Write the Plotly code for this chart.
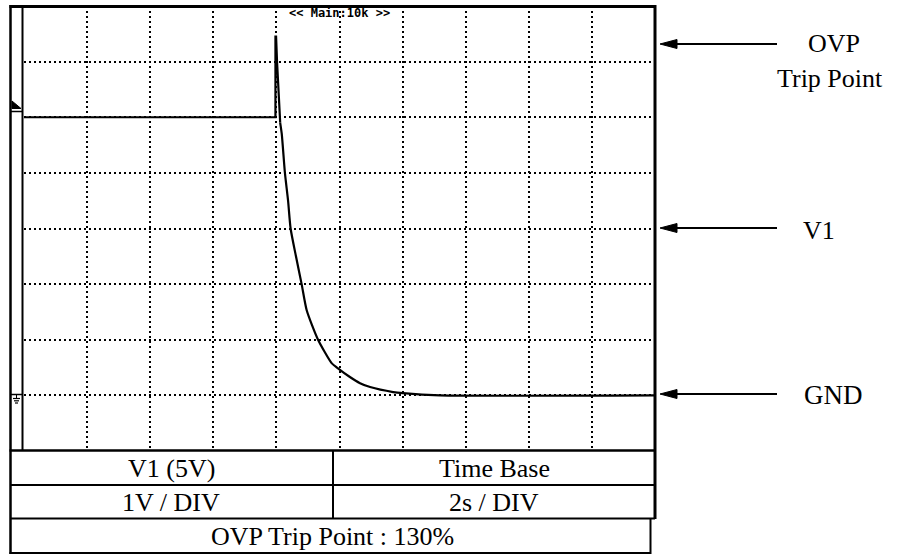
import plotly.graph_objects as go

# ---------------- data ----------------
time_s = [0.0, 7.97, 7.97, 7.99, 8.02, 8.05, 8.09, 8.12, 8.17, 8.27, 8.37, 8.45,
          8.62, 8.80, 8.96, 9.32, 9.75, 9.92, 10.33, 10.65, 10.97, 11.70, 12.01,
          13.19, 20.0]
volts = [5.0, 5.0, 6.45, 6.45, 6.0, 5.6, 5.1, 4.9, 4.7, 4.0, 3.5, 3.0,
         2.5, 2.0, 1.53, 1.0, 0.58, 0.5, 0.33, 0.22, 0.15, 0.06, 0.04,
         0.0, 0.0]
decay_start = 7            # index where the smooth exponential decay begins

x_range = [0, 20]          # 10 divisions x 2 s/DIV
y_range = [-1, 7]          # 8 divisions x 1 V/DIV, GND at 0
x_div = 2
y_div = 1

top_label = "<< Main:10k >>"
table_row1 = ["V1 (5V)", "Time Base"]
table_row2 = ["1V / DIV", "2s / DIV"]
table_row3 = "OVP Trip Point : 130%"
right_labels = ["OVP", "Trip Point", "V1", "GND"]

# ---------------- geometry helpers (pixels -> paper) ----------------
W, H = 901, 557
def px(x):
    return x / W
def py(y):
    return 1 - y / H

PL, PR, PT, PB = 24, 655, 6, 451   # plot area in pixels

fig = go.Figure()
fig.add_trace(go.Scatter(x=time_s[:decay_start + 1], y=volts[:decay_start + 1],
                         mode="lines", line=dict(color="black", width=2.2),
                         hoverinfo="skip", showlegend=False))
fig.add_trace(go.Scatter(x=time_s[decay_start:], y=volts[decay_start:],
                         mode="lines", line=dict(color="black", width=2.2,
                                                 shape="spline", smoothing=0.6),
                         hoverinfo="skip", showlegend=False))

grid_kw = dict(showgrid=True, gridcolor="black", gridwidth=1.5,
               griddash="1.5px,3.5px", zeroline=False, showticklabels=False,
               ticks="", showline=False, fixedrange=True)

fig.update_layout(
    width=W, height=H, autosize=False,
    margin=dict(l=0, r=0, t=0, b=0),
    paper_bgcolor="white", plot_bgcolor="white",
    xaxis=dict(domain=[px(PL), px(PR)], range=x_range, dtick=x_div, **grid_kw),
    yaxis=dict(domain=[py(PB), py(PT)], range=y_range, dtick=y_div, **grid_kw),
)

shapes = []
def hline(y, x0, x1, w=2):
    shapes.append(dict(type="line", xref="paper", yref="paper",
                       x0=px(x0), x1=px(x1), y0=py(y), y1=py(y),
                       line=dict(color="black", width=w)))
def vline(x, y0, y1, w=2):
    shapes.append(dict(type="line", xref="paper", yref="paper",
                       x0=px(x), x1=px(x), y0=py(y0), y1=py(y1),
                       line=dict(color="black", width=w)))
def poly(pts):
    path = "M " + " L ".join(f"{px(a)},{py(b)}" for a, b in pts) + " Z"
    shapes.append(dict(type="path", xref="paper", yref="paper", path=path,
                       fillcolor="black", line=dict(color="black", width=1)))

# outer frame / screen frame
hline(6.5, 9.5, 656, 3)
vline(655, 5, 519, 3)
vline(10.5, 5, 554, 2.5)
vline(22.5, 6, 451, 2)
# left strip marks
poly([(12, 101), (21, 108.5), (12, 108.5)])
hline(111.5, 10.5, 22.5, 1.5)
hline(394.5, 10.5, 22.5, 1.5)
vline(16.5, 394.5, 398, 1)
hline(398.5, 13, 20, 1.2)
hline(400.8, 14, 19, 1.2)
hline(403, 15, 18, 1.2)

# table
hline(450.5, 9.5, 656, 2.5)
hline(485, 10, 655, 2)
hline(518.5, 10, 655, 2)
hline(553, 9.5, 651, 2)
vline(333, 450, 519, 2)
vline(650.5, 518, 554, 2)

# right arrows
for ya in [44, 228, 394]:
    hline(ya, 672, 777, 2)
    poly([(660, ya), (677, ya - 4.5), (677, ya + 4.5)])

fig.update_layout(shapes=shapes)

serif = "Liberation Serif, Times New Roman, serif"
ann = []
def text(t, x, y, size=26, xanchor="center", font=serif):
    ann.append(dict(text=t, xref="paper", yref="paper", x=px(x), y=py(y),
                    xanchor=xanchor, yanchor="middle", showarrow=False,
                    font=dict(family=font, size=size, color="black")))

text("<b>" + top_label.replace("<", "&lt;").replace(">", "&gt;") + "</b>",
     339, 13, size=12, font="DejaVu Sans Mono, monospace")
text(table_row1[0], 171, 468)
text(table_row1[1], 494, 468)
text(table_row2[0], 171, 502)
text(table_row2[1], 494, 502)
text(table_row3, 332, 536)
text(right_labels[0], 834, 44)
text(right_labels[1], 830, 78)
text(right_labels[2], 801, 231, xanchor="left")
text(right_labels[3], 802, 395, xanchor="left", size=27)

fig.update_layout(annotations=ann)

fig.write_html("out.html")
